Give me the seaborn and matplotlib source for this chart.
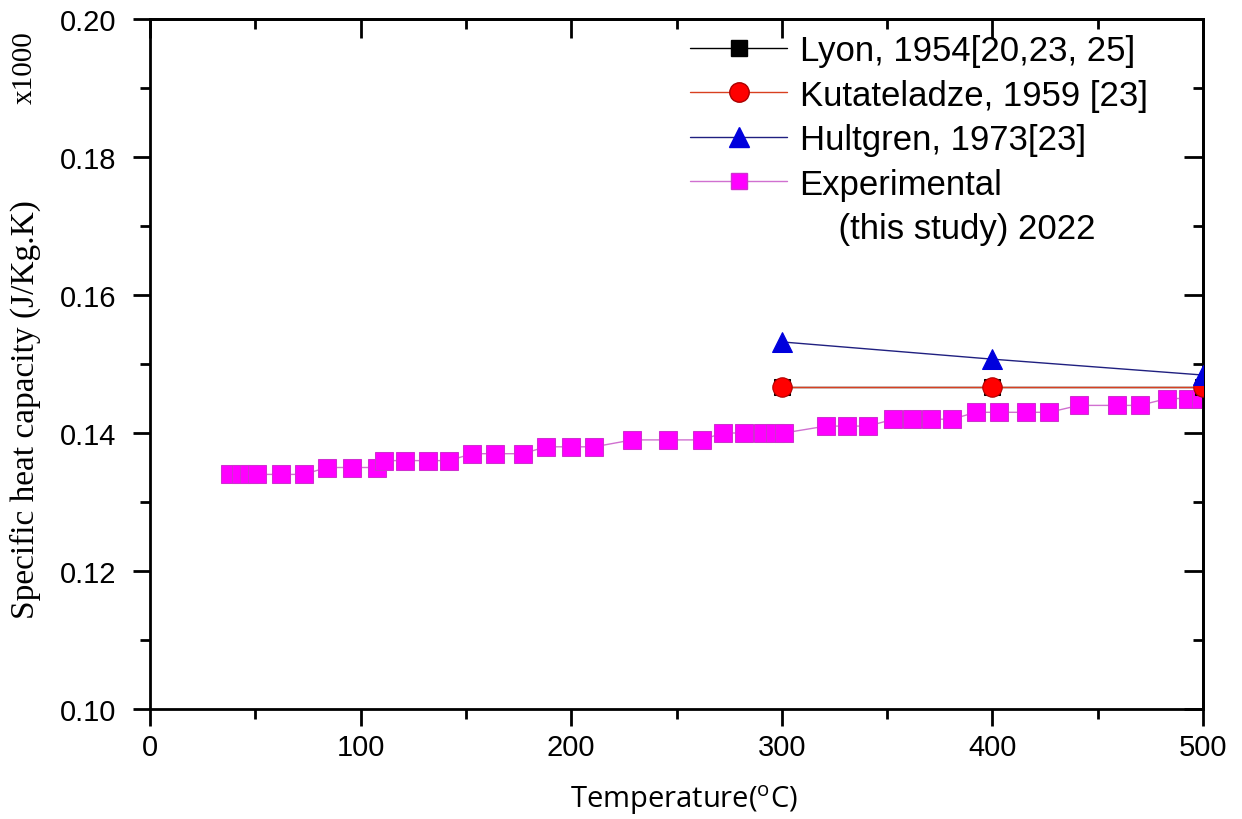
import pandas as pd
import seaborn as sns
import matplotlib.pyplot as plt
from matplotlib.lines import Line2D
from matplotlib.ticker import MultipleLocator, NullFormatter

# data
exp_temp = [38, 43, 47, 51, 62, 73, 84, 96, 108, 111, 121, 132, 142,
            153, 164, 177, 188, 200, 211, 229, 246, 262, 272, 282, 291,
            297, 301, 321, 331, 341, 353, 362, 371, 381, 392, 403, 416,
            427, 441, 459, 470, 483, 493, 499]
exp_cp = [0.134, 0.134, 0.134, 0.134, 0.134, 0.134, 0.135, 0.135, 0.135,
          0.136, 0.136, 0.136, 0.136, 0.137, 0.137, 0.137, 0.138, 0.138,
          0.138, 0.139, 0.139, 0.139, 0.140, 0.140, 0.140, 0.140, 0.140,
          0.141, 0.141, 0.141, 0.142, 0.142, 0.142, 0.142, 0.143, 0.143,
          0.143, 0.143, 0.144, 0.144, 0.144, 0.145, 0.145, 0.145]

ref_temp = [300, 400, 500]
lyon_cp = [0.1467, 0.1467, 0.1467]
kutateladze_cp = [0.1467, 0.1467, 0.1467]
hultgren_cp = [0.1532, 0.1507, 0.1484]

labels = ["Lyon, 1954[20,23, 25]", "Kutateladze, 1959 [23]",
          "Hultgren, 1973[23]", "Experimental", "    (this study) 2022"]

sns.set_style("ticks", {"text.color": "black", "xtick.color": "black",
                        "ytick.color": "black", "axes.edgecolor": "black"})
plt.rcParams["font.family"] = ["Liberation Sans", "DejaVu Sans"]

fig = plt.figure(figsize=(12.42, 8.2), dpi=100)
ax = fig.add_axes([150 / 1242, 1 - 710 / 820, 1053 / 1242, 690 / 820])

exp_df = pd.DataFrame({"T": exp_temp, "cp": exp_cp})
sns.lineplot(data=exp_df, x="T", y="cp", ax=ax, sort=False, estimator=None,
             color="#d070d0", lw=1, marker="s", markersize=13,
             markerfacecolor="#ff00ff", markeredgecolor="#d030d0", zorder=2)

ref_df = pd.DataFrame({"T": ref_temp, "lyon": lyon_cp,
                       "kut": kutateladze_cp, "hult": hultgren_cp})
sns.lineplot(data=ref_df, x="T", y="lyon", ax=ax, color="black", lw=1,
             marker="s", markersize=11, markerfacecolor="black",
             markeredgecolor="black", zorder=3)
sns.lineplot(data=ref_df, x="T", y="kut", ax=ax, color="#d84020", lw=1,
             marker="o", markersize=14, markerfacecolor="#ff0000",
             markeredgecolor="#aa0000", zorder=4)
sns.lineplot(data=ref_df, x="T", y="hult", ax=ax, color="#202080", lw=1,
             marker="^", markersize=15, markerfacecolor="#0000dd",
             markeredgecolor="#0000dd", zorder=5)

ax.set_xlim(0, 500)
ax.set_ylim(0.10, 0.20)
ax.xaxis.set_major_locator(MultipleLocator(100))
ax.xaxis.set_minor_locator(MultipleLocator(50))
ax.yaxis.set_major_locator(MultipleLocator(0.02))
ax.yaxis.set_minor_locator(MultipleLocator(0.01))
ax.yaxis.set_major_formatter(plt.FormatStrFormatter("%.2f"))
ax.set_xlabel("")
ax.set_ylabel("")

for s in ax.spines.values():
    s.set_visible(True)
    s.set_linewidth(2)
    s.set_color("black")

ax.tick_params(axis="both", which="major", length=12, width=2,
               direction="out", color="black", labelcolor="black")
ax.tick_params(axis="both", which="minor", length=7, width=2,
               direction="out", color="black")
ax.tick_params(axis="y", which="major", labelsize=21, pad=12)
ax.tick_params(axis="x", which="major", labelsize=21, pad=5)

# top and right ticks point inward, no labels
top = ax.secondary_xaxis("top")
top.xaxis.set_major_locator(MultipleLocator(100))
top.xaxis.set_minor_locator(MultipleLocator(50))
top.xaxis.set_major_formatter(NullFormatter())
top.tick_params(which="major", direction="in", length=14, width=2)
top.tick_params(which="minor", direction="in", length=7, width=2)
right = ax.secondary_yaxis("right")
right.yaxis.set_major_locator(MultipleLocator(0.02))
right.yaxis.set_minor_locator(MultipleLocator(0.01))
right.yaxis.set_major_formatter(NullFormatter())
right.tick_params(which="major", direction="in", length=14, width=2)
right.tick_params(which="minor", direction="in", length=7, width=2)
for sa in (top, right):
    for s in sa.spines.values():
        s.set_linewidth(2)

handles = [
    Line2D([], [], color="black", lw=1, marker="s", markersize=11,
           markerfacecolor="black", markeredgecolor="black"),
    Line2D([], [], color="#d84020", lw=1, marker="o", markersize=14,
           markerfacecolor="#ff0000", markeredgecolor="#aa0000"),
    Line2D([], [], color="#202080", lw=1, marker="^", markersize=15,
           markerfacecolor="#0000dd", markeredgecolor="#0000dd"),
    Line2D([], [], color="#d070d0", lw=1, marker="s", markersize=12,
           markerfacecolor="#ff00ff", markeredgecolor="#d030d0"),
    Line2D([], [], color="none"),
]
ax.legend(handles, labels, loc="upper left", bbox_to_anchor=(0.513, 0.978),
          frameon=False, fontsize=25, handlelength=2.8, handletextpad=0.35,
          labelspacing=0.33, borderpad=0, borderaxespad=0)

fig.text(25 / 1242, 1 - 410 / 820, "Specific heat capacity (J/Kg.K)",
         rotation=90, ha="center", va="center", fontsize=24,
         family=["Liberation Serif", "DejaVu Serif"])
fig.text(25 / 1242, 1 - 68 / 820, "x1000", rotation=90, ha="center",
         va="center", fontsize=21, family=["Liberation Serif", "DejaVu Serif"])
fig.text(684 / 1242, 1 - 800 / 820,
         r"Temperature($^{\mathregular{o}}$C)", ha="center", va="center",
         fontsize=21, family=["Open Sans", "DejaVu Sans"])

fig.savefig("out.png", dpi=100)
